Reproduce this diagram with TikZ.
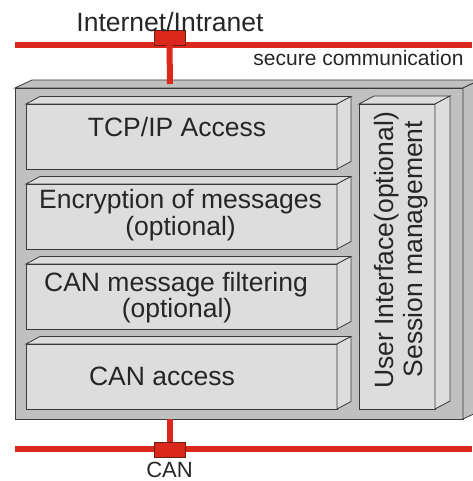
\documentclass[tikz,border=0pt]{standalone}
\usepackage{fontspec}
\setmainfont{Liberation Sans}
\usetikzlibrary{calc}
\definecolor{netred}{HTML}{DA291C}
\definecolor{netdark}{HTML}{6A1C14}
\definecolor{outer}{HTML}{C0C0C0}
\definecolor{inner}{HTML}{DDDDDD}
\definecolor{edge}{HTML}{3A3A3A}
\newcommand\facesthree[4]{% node, dx, dy, fill
  \draw[edgeline,fill=#4] (#1.north west) -- ++(#2,#3) -- ($(#1.north east)+(#2,#3)$) -- (#1.north east) -- cycle;
  \draw[edgeline,fill=#4] (#1.north east) -- ++(#2,#3) -- ($(#1.south east)+(#2,#3)$) -- (#1.south east) -- cycle;
}
\begin{document}
\begin{tikzpicture}[x=1pt,y=1pt,
  edgeline/.style={draw=edge,line width=0.8pt,line join=miter},
  frontbox/.style={edgeline,inner sep=0,outer sep=0,anchor=south west},
  lbl/.style={inner sep=0,outer sep=0,anchor=base,font=\fontsize{26.5}{29}\selectfont,text=black!85},
  redline/.style={draw=netred,line width=6pt},
  connbox/.style={fill=netred,draw=netdark,line width=0.8pt,inner sep=0,outer sep=0,minimum width=31pt,minimum height=15pt}]
\useasboundingbox (0,0) rectangle (472,481);
% main outer box
\node[frontbox,fill=outer,minimum width=448pt,minimum height=331pt] (main) at (15,62) {};
\facesthree{main}{17}{8}{outer}
% layer boxes
\node[frontbox,fill=inner,minimum width=311pt,minimum height=65pt] (tcp) at (26,312) {};
\facesthree{tcp}{14}{7.5}{inner}
\node[frontbox,fill=inner,minimum width=311pt,minimum height=65pt] (enc) at (26,232) {};
\facesthree{enc}{14}{7.5}{inner}
\node[frontbox,fill=inner,minimum width=311pt,minimum height=65pt] (filt) at (26,152) {};
\facesthree{filt}{14}{7.5}{inner}
\node[frontbox,fill=inner,minimum width=311pt,minimum height=65pt] (canacc) at (26,72) {};
\facesthree{canacc}{14}{7.5}{inner}
\node[frontbox,fill=inner,minimum width=76pt,minimum height=305pt] (ui) at (359,72) {};
\facesthree{ui}{15}{8}{inner}
% texts
\node[lbl] (ttcp) at (177,344) {TCP/IP Access};
\node[lbl] (tenc1) at (180.5,272) {Encryption of messages};
\node[lbl] (tenc2) at (180.5,245) {(optional)};
\node[lbl] (tfilt1) at (176,189) {CAN message filtering};
\node[lbl] (tfilt2) at (177,163) {(optional)};
\node[lbl] (tcan) at (162,95) {CAN access};
\node[lbl,rotate=90] (tui1) at (393,230.5) {User Interface(optional)};
\node[lbl,rotate=90] (tui2) at (422,232) {Session management};
% networks
\coordinate (inetL) at (15,436);
\coordinate (inetR) at (472,436);
\draw[redline] (inetL) -- (inetR);
\node[connbox] (inetc) at (169.5,443.5) {};
\coordinate (inetdrop) at (170,397);
\draw[redline] (inetc.south) -- (inetdrop);
\node[lbl] (tinet) at (170,449) {Internet/Intranet};
\node[lbl,font=\fontsize{21}{24}\selectfont] (tsec) at (358.5,415) {secure communication};
\coordinate (canL) at (15,31.5);
\coordinate (canR) at (472,31.5);
\draw[redline] (canL) -- (canR);
\node[connbox] (canc) at (169.5,31.5) {};
\draw[redline] (main.south -| canc) -- (canc.north);
\node[lbl,font=\fontsize{22}{24}\selectfont] (tcanbus) at (169.5,3.5) {CAN};
\end{tikzpicture}
\end{document}
